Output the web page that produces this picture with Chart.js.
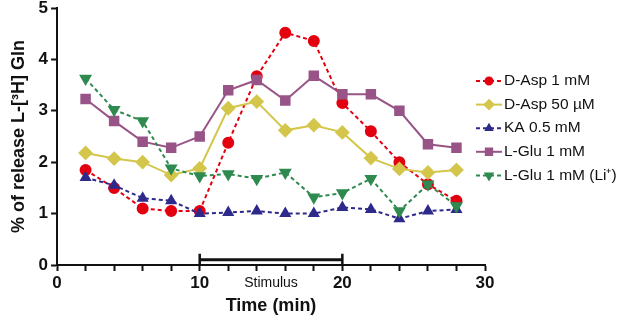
<!DOCTYPE html>
<html>
<head>
<meta charset="utf-8">
<script src="https://cdn.jsdelivr.net/npm/chart.js@4/dist/chart.umd.min.js"></script>
<style>
  html, body { margin: 0; padding: 0; background: #fff; }
  #wrap { width: 624px; height: 323px; }
</style>
</head>
<body>
<div id="wrap"><canvas id="chart"></canvas></div>
<script>
'use strict';

const times = [2, 4, 6, 8, 10, 12, 14, 16, 18, 20, 22, 24, 26, 28];
const dAsp1 = [1.85, 1.5, 1.1, 1.05, 1.05, 2.38, 3.67, 4.52, 4.36, 3.15, 2.6, 2.0, 1.57, 1.25];
const dAsp50 = [2.18, 2.07, 2.0, 1.75, 1.88, 3.05, 3.18, 2.62, 2.72, 2.58, 2.08, 1.87, 1.8, 1.85];
const ka = [1.7, 1.55, 1.3, 1.25, 1.0, 1.02, 1.05, 1.0, 1.0, 1.12, 1.08, 0.9, 1.05, 1.08];
const lGlu = [3.23, 2.8, 2.4, 2.28, 2.5, 3.4, 3.6, 3.2, 3.68, 3.32, 3.32, 3.0, 2.35, 2.28];
const lGluLi = [3.63, 3.02, 2.8, 1.88, 1.73, 1.77, 1.68, 1.8, 1.32, 1.4, 1.68, 1.05, 1.57, 1.15];
const stimulus = [10, 20];
const majorTicks = [0, 10, 20, 30];

const FONT = "'Liberation Sans', Arial, Helvetica, sans-serif";

const toXY = vals => vals.map((v, i) => ({ x: times[i], y: v }));

const makeSet = (label, vals, color, style, radius, dashed, rotation) => ({
    label: label,
    data: toXY(vals),
    borderColor: color,
    backgroundColor: color,
    pointBackgroundColor: color,
    pointBorderColor: color,
    pointStyle: style,
    pointRadius: radius,
    pointRotation: rotation || 0,
    borderWidth: 2,
    borderDash: dashed ? [4, 3] : [],
    tension: 0,
    fill: false
});

const datasets = [
    makeSet('L-Glu 1 mM (Li\u207A)', lGluLi, '#2f8a4f', 'triangle', 5.5, true, 180),
    makeSet('KA 0.5 mM', ka, '#2d2a8c', 'triangle', 5, true),
    makeSet('D-Asp 50 \u00B5M', dAsp50, '#d3c64b', 'rectRot', 6, false),
    makeSet('L-Glu 1 mM', lGlu, '#985487', 'rect', 6, false),
    makeSet('D-Asp 1 mM', dAsp1, '#e3000f', 'circle', 5, true)
];
const legendOrder = ['D-Asp 1 mM', 'D-Asp 50 \u00B5M', 'KA 0.5 mM', 'L-Glu 1 mM', 'L-Glu 1 mM (Li\u207A)'];

// stimulus bar + label drawn on the axes
const stimulusPlugin = {
    id: 'stimulus',
    afterDatasetsDraw: (chart) => {
        const ctx = chart.ctx;
        const x = chart.scales.x;
        const y = chart.scales.y;
        const x1 = x.getPixelForValue(stimulus[0]);
        const x2 = x.getPixelForValue(stimulus[1]);
        const yb = y.getPixelForValue(0.1);
        ctx.save();
        ctx.strokeStyle = '#111';
        ctx.lineWidth = 3;
        ctx.beginPath();
        ctx.moveTo(x1, yb);
        ctx.lineTo(x2, yb);
        ctx.stroke();
        ctx.lineWidth = 2.5;
        ctx.beginPath();
        ctx.moveTo(x1, yb - 6);
        ctx.lineTo(x1, yb + 6);
        ctx.moveTo(x2, yb - 6);
        ctx.lineTo(x2, yb + 6);
        ctx.stroke();
        ctx.fillStyle = '#111';
        ctx.font = '14px ' + FONT;
        ctx.textAlign = 'center';
        ctx.textBaseline = 'middle';
        ctx.fillText('Stimulus', (x1 + x2) / 2, y.bottom + 18);
        ctx.restore();
    }
};

// legend drawn at the right side
const legendPlugin = {
    id: 'sideLegend',
    afterDraw: (chart) => {
        const ctx = chart.ctx;
        const x0 = 476;
        const y0 = 81;
        const step = 23.6;
        ctx.save();
        legendOrder.forEach((name, i) => {
            const ds = chart.data.datasets.find(d => d.label === name);
            const yy = y0 + i * step;
            ctx.strokeStyle = ds.borderColor;
            ctx.lineWidth = 2;
            ctx.setLineDash(ds.borderDash);
            ctx.beginPath();
            ctx.moveTo(x0, yy);
            ctx.lineTo(x0 + 26, yy);
            ctx.stroke();
            ctx.setLineDash([]);
            Chart.helpers.drawPoint(ctx, {
                pointStyle: ds.pointStyle,
                radius: ds.pointRadius - 1.5,
                rotation: ds.pointRotation,
                borderWidth: 1
            }, x0 + 13, yy);
            ctx.fillStyle = ds.borderColor;
            ctx.fill();
            ctx.fillStyle = '#111';
            ctx.font = '15.5px ' + FONT;
            ctx.textAlign = 'left';
            ctx.textBaseline = 'middle';
            ctx.fillText(name, x0 + 28, yy);
        });
        ctx.restore();
    }
};

const options = {
    responsive: true,
    maintainAspectRatio: false,
    animation: false,
    layout: {
        padding: { left: 8, right: 139, top: 0, bottom: 6 }
    },
    scales: {
        x: {
            type: 'linear',
            min: 0,
            max: 30,
            border: { color: '#111', width: 2 },
            grid: { drawOnChartArea: false, tickLength: 6, tickColor: '#111', tickWidth: 2 },
            ticks: {
                stepSize: 2,
                autoSkip: false,
                maxRotation: 0,
                color: '#111',
                padding: 2,
                font: { family: FONT, size: 17, weight: 'bold' },
                callback: v => majorTicks.includes(v) ? String(v) : ''
            },
            title: {
                display: true,
                text: 'Time (min)',
                color: '#111',
                padding: { top: 0, bottom: 0 },
                font: { family: FONT, size: 18, weight: 'bold' }
            }
        },
        y: {
            min: 0,
            max: 5,
            afterFit: scale => { scale.paddingTop = 7; },
            border: { color: '#111', width: 2 },
            grid: { drawOnChartArea: false, tickLength: 6, tickColor: '#111', tickWidth: 2 },
            ticks: {
                stepSize: 1,
                color: '#111',
                padding: 3,
                font: { family: FONT, size: 17, weight: 'bold' }
            },
            title: {
                display: true,
                text: '% of release L-[\u00B3H] Gln',
                color: '#111',
                padding: { top: 0, bottom: 6 },
                font: { family: FONT, size: 18, weight: 'bold' }
            }
        }
    },
    plugins: {
        legend: { display: false },
        tooltip: { enabled: false }
    }
};

new Chart(document.getElementById('chart'), {
    type: 'line',
    data: { datasets: datasets },
    options: options,
    plugins: [stimulusPlugin, legendPlugin]
});
</script>
</body>
</html>
